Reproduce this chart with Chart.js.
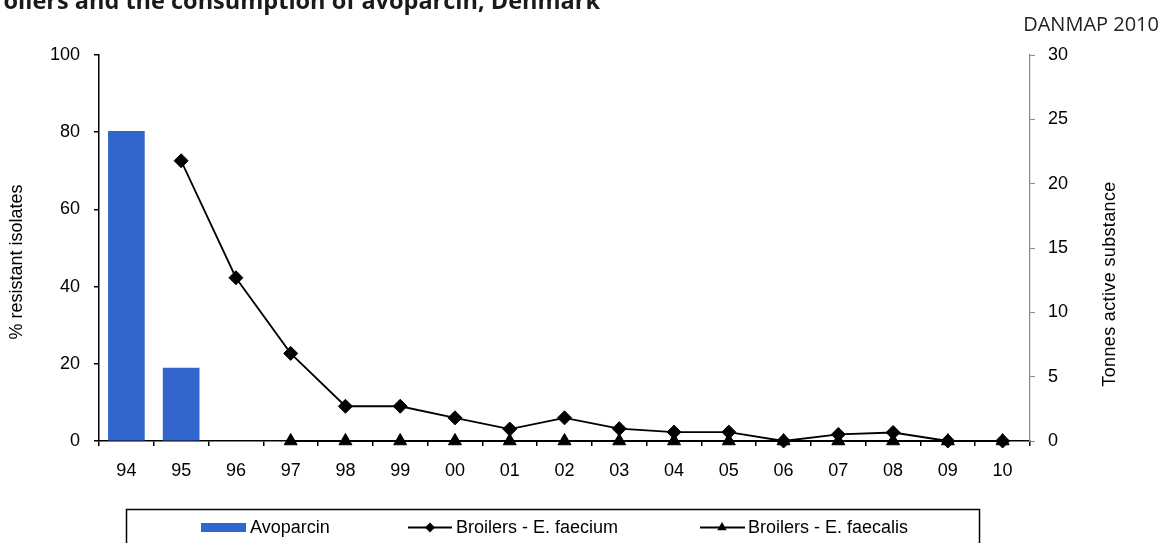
<!DOCTYPE html>
<html>
<head>
<meta charset="utf-8">
<script src="https://cdn.jsdelivr.net/npm/chart.js@4.4.0/dist/chart.umd.min.js"></script>
<style>
  html, body { margin: 0; padding: 0; background: #fff; overflow: hidden; }
  #wrap { position: relative; width: 1163px; height: 543px; overflow: hidden; }
  canvas { position: absolute; left: 0; top: 0; }
  #title { position: absolute; right: 563px; top: -15px; font: bold 23.5px/30px "Open Sans", sans-serif; color: #1a1a1a; white-space: nowrap; }
  #tag { position: absolute; right: 4px; top: 10px; font: 20px/28px "Open Sans", sans-serif; color: #222; }
</style>
</head>
<body>
<div id="wrap">
  <canvas id="chart" width="1163" height="543"></canvas>
  <div id="title">Vancomycin resistance among Enterococcus from broilers and the consumption of avoparcin, Denmark</div>
  <div id="tag">DANMAP 2010</div>
</div>
<script>
// data
const years = ['94','95','96','97','98','99','00','01','02','03','04','05','06','07','08','09','10'];
const avoparcinTonnes = [24.1, 5.7, 0, 0, 0, 0, 0, 0, 0, 0, 0, 0, 0, 0, 0, 0, 0];
const faeciumPct = [null, 72.6, 42.3, 22.7, 9.0, 9.0, 6.0, 3.1, 6.0, 3.2, 2.3, 2.3, 0, 1.7, 2.2, 0, 0];
const faecalisPct = [null, null, null, 0, 0, 0, 0, 0, 0, 0, 0, 0, 0, 0, 0, 0, 0];

const FONT = '"Liberation Sans", Arial, sans-serif';
const BLUE = '#3366cc';

// vertical axis title; target = length of the text in the figure (null keeps natural width)
function axisTitle(ctx, text, cx, cy, target) {
  ctx.save();
  ctx.translate(cx, cy);
  ctx.rotate(-Math.PI / 2);
  ctx.font = '18px ' + FONT;
  ctx.fillStyle = '#000';
  ctx.letterSpacing = '0px';
  if (target) {
    const w = ctx.measureText(text).width;
    ctx.letterSpacing = ((target - w) / (text.length - 1)) + 'px';
  }
  ctx.textAlign = 'center';
  ctx.textBaseline = 'middle';
  ctx.fillText(text, 0, 0);
  ctx.restore();
}

function diamond(ctx, x, y, r) {
  ctx.beginPath();
  ctx.moveTo(x - r, y); ctx.lineTo(x, y - r); ctx.lineTo(x + r, y); ctx.lineTo(x, y + r);
  ctx.closePath(); ctx.fill();
}

function triangle(ctx, x, y, r) {
  ctx.beginPath();
  ctx.moveTo(x, y - r); ctx.lineTo(x + r * 0.866, y + r / 2); ctx.lineTo(x - r * 0.866, y + r / 2);
  ctx.closePath(); ctx.fill();
}

const extras = {
  id: 'extras',
  afterDraw(chart) {
    const ctx = chart.ctx;
    axisTitle(ctx, '% resistant isolates', 17, 262, null);
    axisTitle(ctx, 'Tonnes active substance', 1110, 284, 205);

    // boxed legend under the axis
    ctx.save();
    ctx.strokeStyle = '#000';
    ctx.lineWidth = 1.5;
    ctx.strokeRect(126.5, 509.5, 853, 60);
    ctx.fillStyle = BLUE;
    ctx.fillRect(201, 523, 45, 9);
    ctx.fillStyle = '#000';
    ctx.font = '18px ' + FONT;
    ctx.textBaseline = 'middle';
    ctx.fillText('Avoparcin', 250, 528);
    ctx.lineWidth = 1.8;
    ctx.beginPath(); ctx.moveTo(408, 527.5); ctx.lineTo(452, 527.5); ctx.stroke();
    diamond(ctx, 430, 527.5, 5);
    ctx.fillText('Broilers - E. faecium', 456, 528);
    ctx.beginPath(); ctx.moveTo(700, 527.5); ctx.lineTo(745, 527.5); ctx.stroke();
    triangle(ctx, 722, 527.5, 5.5);
    ctx.fillText('Broilers - E. faecalis', 748, 528);
    ctx.restore();
  }
};

const tickFont = { family: FONT, size: 18 };

new Chart(document.getElementById('chart'), {
  type: 'bar',
  data: {
    labels: years,
    datasets: [
      {
        type: 'line', label: 'Broilers - E. faecium', data: faeciumPct, yAxisID: 'y', order: 0,
        borderColor: '#000', borderWidth: 1.8, tension: 0, clip: false,
        pointStyle: 'rectRot', pointRadius: 7, pointBackgroundColor: '#000', pointBorderColor: '#000', pointBorderWidth: 1
      },
      {
        type: 'line', label: 'Broilers - E. faecalis', data: faecalisPct, yAxisID: 'y', order: 1,
        borderColor: '#000', borderWidth: 1.8, tension: 0, clip: false,
        pointStyle: 'triangle', pointRadius: 7.5, pointBackgroundColor: '#000', pointBorderColor: '#000', pointBorderWidth: 1
      },
      {
        type: 'bar', label: 'Avoparcin', data: avoparcinTonnes, yAxisID: 'y1', order: 2,
        backgroundColor: BLUE, borderWidth: 0, barPercentage: 0.67, categoryPercentage: 1
      }
    ]
  },
  options: {
    responsive: false,
    animation: false,
    devicePixelRatio: 1,
    layout: { padding: { top: 55, left: 0, right: 0, bottom: 0 } },
    plugins: { legend: { display: false }, tooltip: { enabled: false } },
    scales: {
      x: {
        offset: true,
        grid: { offset: true, drawOnChartArea: false, tickLength: 5, color: '#000', lineWidth: 1.5 },
        border: { color: '#000', width: 1.5 },
        ticks: { color: '#000', font: tickFont, padding: 14, maxRotation: 0, autoSkip: false },
        afterFit: s => { s.height = 102; s.paddingLeft = 0; s.paddingRight = 0; }
      },
      y: {
        position: 'left', min: 0, max: 100,
        grid: { drawOnChartArea: false, tickLength: 5, color: '#000', lineWidth: 1.5 },
        border: { color: '#000', width: 1.5 },
        ticks: { stepSize: 20, color: '#000', font: tickFont, padding: 14 },
        afterFit: s => { s.width = 99; s.paddingTop = 0; s.paddingBottom = 0; }
      },
      y1: {
        position: 'right', min: 0, max: 30,
        grid: { drawOnChartArea: false, tickLength: 5, color: '#888', lineWidth: 1 },
        border: { color: '#888', width: 1.2 },
        ticks: { stepSize: 5, color: '#000', font: tickFont, padding: 13 },
        afterFit: s => { s.width = 133; s.paddingTop = 0; s.paddingBottom = 0; }
      }
    }
  },
  plugins: [extras]
});
</script>
</body>
</html>
